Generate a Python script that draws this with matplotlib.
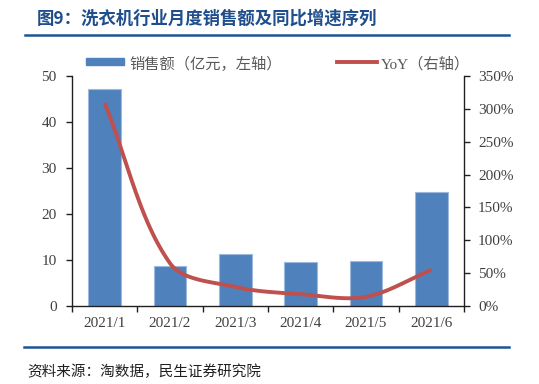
import numpy as np
import matplotlib
matplotlib.use("Agg")
import matplotlib.pyplot as plt
from matplotlib.lines import Line2D
from matplotlib.patches import Rectangle

plt.rcParams['font.family'] = ['Noto Sans CJK SC', 'DejaVu Sans']

categories = ["2021/1", "2021/2", "2021/3", "2021/4", "2021/5", "2021/6"]
sales = [47.1, 8.7, 11.3, 9.6, 9.8, 24.8]          # 亿元
yoy = [3.09, 0.65, 0.29, 0.18, 0.14, 0.55]          # ratio

title = "图9：洗衣机行业月度销售额及同比增速序列"
source = "资料来源：淘数据，民生证券研究院"
bar_label = "销售额（亿元，左轴）"
line_label = "YoY（右轴）"

BLUE = "#4F81BD"
RED = "#C0504D"
DARK = "#1F4E8C"
TICK = "#404040"
SERIF = ['Liberation Serif', 'Noto Sans CJK SC']

W, H = 539, 384
fig = plt.figure(figsize=(W / 100, H / 100), dpi=100)

def fx(px): return px / W
def fy(py): return 1 - py / H

ax = fig.add_axes([fx(72), fy(306), fx(464) - fx(72), fy(76) - fy(306)])
x = np.arange(len(categories))
ax.bar(x, sales, width=0.5, color=BLUE, edgecolor="#9DB9DE", linewidth=0.8, zorder=2)
ax.set_xlim(-0.5, len(categories) - 0.5)
ax.set_ylim(0, 50)
ax.set_yticks(np.arange(0, 51, 10))
ax.set_xticks(x)
ax.set_xticklabels(categories)
ax.set_xticks(np.arange(-0.5, len(categories), 1), minor=True)
ax.tick_params(axis='x', which='major', length=0, pad=8)
ax.tick_params(axis='x', which='minor', length=4, direction='out', width=1, color='#202020')
ax.tick_params(axis='y', length=4, direction='out', width=1, color='#202020', pad=7)
for lab in ax.get_xticklabels() + ax.get_yticklabels():
    lab.set_fontfamily(SERIF)
    lab.set_fontsize(11)
    lab.set_color(TICK)
ax.spines['top'].set_visible(False)
ax.spines['right'].set_visible(False)
for s in ['left', 'bottom']:
    ax.spines[s].set_color('#202020')
    ax.spines[s].set_linewidth(1)

ax2 = ax.twinx()
ax2.set_ylim(0, 3.5)
ax2.set_yticks(np.arange(0, 3.51, 0.5))
ax2.set_yticklabels([f"{int(round(v * 100))}%" for v in np.arange(0, 3.51, 0.5)])
ax2.tick_params(axis='y', length=4, direction='out', width=1, color='#202020', pad=6)
for lab in ax2.get_yticklabels():
    lab.set_fontfamily(SERIF)
    lab.set_fontsize(11)
    lab.set_color(TICK)
for s in ['top', 'left', 'bottom']:
    ax2.spines[s].set_visible(False)
ax2.spines['right'].set_color('#202020')
ax2.spines['right'].set_linewidth(1)

# Excel-like smoothed line: cubic Bezier with chord-length weighted tangents
def smooth(xs, ys, n=40):
    P = np.column_stack([np.asarray(xs, float), np.asarray(ys, float)])
    m = len(P)
    c_out, c_in = [], []
    for i in range(m):
        prev = P[i - 1] if i > 0 else P[i]
        nxt = P[i + 1] if i < m - 1 else P[i]
        T = nxt - prev
        dp = np.linalg.norm(P[i] - prev)
        dn = np.linalg.norm(nxt - P[i])
        tot = dp + dn if dp + dn > 0 else 1
        c_out.append(P[i] + T * dn / tot / 3)
        c_in.append(P[i] - T * dp / tot / 3)
    out = []
    for i in range(m - 1):
        p0, p1, p2, p3 = P[i], c_out[i], c_in[i + 1], P[i + 1]
        t = np.linspace(0, 1, n)[:, None]
        pts = ((1 - t) ** 3) * p0 + 3 * ((1 - t) ** 2) * t * p1 + 3 * (1 - t) * t ** 2 * p2 + t ** 3 * p3
        out.append(pts)
    out = np.vstack(out)
    return out[:, 0], out[:, 1]

sx, sy = smooth(x, yoy)
ax2.plot(sx, sy, color=RED, linewidth=2.8, solid_capstyle='butt', zorder=3)

# legend (manual)
fig.add_artist(Rectangle((fx(86), fy(65)), fx(124) - fx(86), fy(58) - fy(65),
                         transform=fig.transFigure, color=BLUE))
fig.text(fx(129), fy(64), bar_label, fontsize=11, color='#595959', va='center', ha='left')
fig.add_artist(Line2D([fx(337), fx(377)], [fy(62), fy(62)], transform=fig.transFigure,
                      color=RED, linewidth=2.8))
fig.text(fx(381), fy(64), line_label, fontsize=11, color='#595959', va='center', ha='left',
         family=SERIF)

# title and rules
fig.text(fx(37), fy(19), title, fontsize=12.5, fontweight='bold', color=DARK,
         va='center', ha='left')
fig.add_artist(Line2D([fx(25), fx(509)], [fy(35), fy(35)], transform=fig.transFigure,
                      color="#1F5597", linewidth=1.8))
fig.add_artist(Line2D([fx(24), fx(509)], [fy(347), fy(347)], transform=fig.transFigure,
                      color="#1F5597", linewidth=1.8))
fig.text(fx(27), fy(372), source, fontsize=10.5, color='#202020', va='center', ha='left')

fig.savefig("out.png", dpi=100)
